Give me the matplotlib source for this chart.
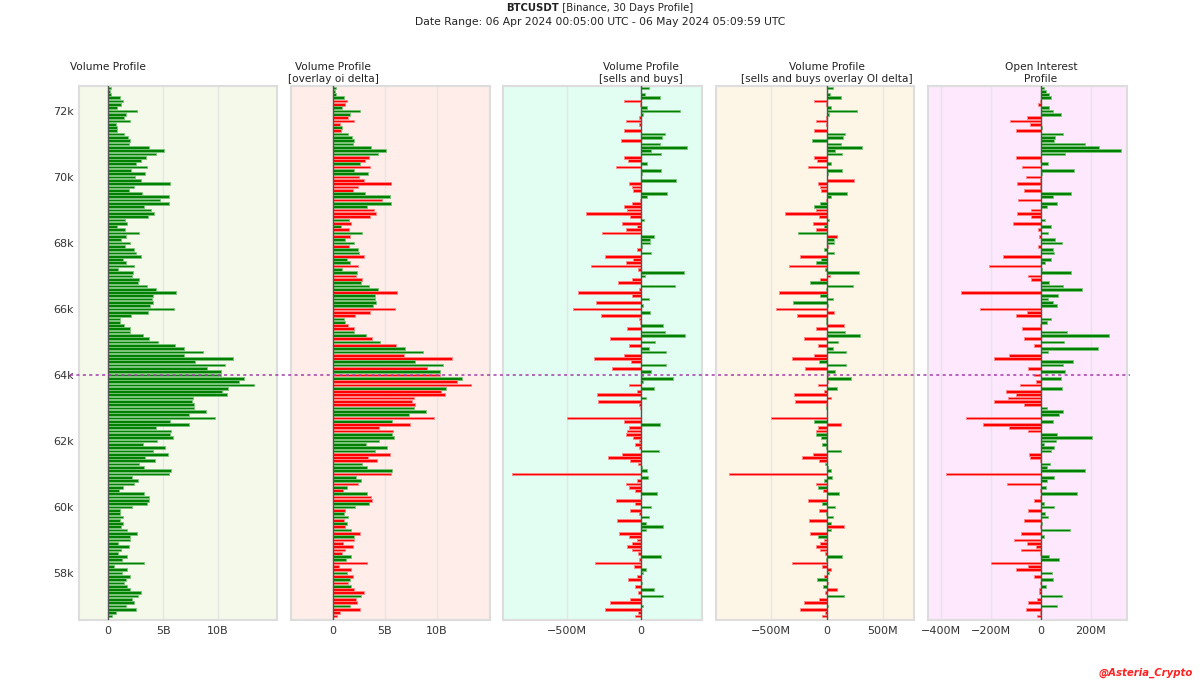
import matplotlib
matplotlib.use("Agg")
import matplotlib.pyplot as plt
from matplotlib.lines import Line2D
from matplotlib.transforms import blended_transform_factory
import numpy as np

# price levels (bin centres), top to bottom
price_levels = list(range(72700, 56600, -100))

# total traded volume per level (billions USDT)
volume_b = [
    0.25, 0.22, 0.28, 1.08, 1.33, 1.16, 0.86, 2.62, 1.60, 1.47,
    1.98, 0.70, 0.84, 0.80, 1.42, 1.78, 2.03, 1.88, 3.70, 5.10,
    4.35, 3.46, 3.03, 2.55, 3.55, 2.05, 3.33, 2.48, 3.00, 5.60,
    2.40, 1.92, 3.09, 5.50, 4.70, 5.55, 3.30, 3.90, 4.14, 3.60,
    1.54, 1.70, 0.80, 1.50, 2.82, 1.66, 1.17, 1.98, 1.57, 2.37,
    2.50, 3.00, 1.37, 1.63, 2.37, 0.87, 2.30, 2.20, 2.80, 2.72,
    3.50, 4.33, 6.20, 4.07, 4.04, 4.10, 3.80, 6.00, 3.60, 2.08,
    1.10, 1.12, 1.47, 2.00, 2.00, 3.20, 3.75, 4.50, 6.06, 6.90,
    8.65, 6.86, 11.40, 7.90, 10.60, 9.00, 10.30, 10.30, 12.40, 11.90,
    13.30, 10.90, 10.35, 10.80, 7.76, 7.63, 7.85, 7.80, 8.90, 7.34,
    9.70, 5.67, 7.37, 4.40, 5.74, 5.67, 5.87, 4.42, 3.20, 5.16,
    4.07, 5.48, 3.40, 4.26, 2.79, 3.27, 5.70, 5.54, 2.20, 2.72,
    2.40, 1.35, 0.96, 3.27, 3.70, 3.75, 3.50, 2.15, 1.12, 1.06,
    1.40, 1.06, 1.38, 1.15, 1.70, 2.60, 2.00, 2.00, 0.93, 1.90,
    1.20, 0.90, 1.70, 1.28, 3.24, 0.54, 1.73, 1.30, 1.96, 1.63,
    1.47, 1.76, 2.00, 3.00, 2.72, 2.20, 2.34, 1.67, 2.56, 0.70,
    0.38,
]

# buys minus sells per level (millions USDT)
delta_m = [
    56, 2, 24, 129, -113, -5, 40, 266, 16, -11,
    -100, -11, 2, -113, 159, 140, -134, 126, 312, 70,
    132, -113, -91, 40, -172, 134, 5, -2, 237, -78,
    -62, -54, 175, 40, -5, -62, -113, -94, -371, -73,
    22, -126, -24, -102, -263, 91, 59, 59, 8, -24,
    67, -245, -56, -99, -336, -19, 290, 27, -62, -153,
    228, -13, -427, -62, 51, -301, 11, -457, 59, -269,
    -11, -8, 148, -97, 159, 296, -207, 97, -78, 51,
    167, -113, -315, -67, 172, -196, 70, 13, 215, 13,
    -83, 91, -24, -296, 35, -288, -13, -8, -3, -3,
    -497, -118, 129, -78, -94, -99, -54, -13, -43, -13,
    124, -126, -220, -75, -22, 5, 38, -871, 48, -30,
    -102, -78, -40, 105, -2, -172, -43, 70, -75, -13,
    56, -161, 35, 151, 32, -148, -78, -24, -62, -97,
    -59, -22, 137, -13, -309, -48, 35, 16, -24, -91,
    5, -38, 89, -19, 148, -75, -207, 11, -245, -19,
    -43,
]

# open interest change per level (millions USDT)
oi_delta_m = [
    13, 21, 32, 38, -5, -11, 30, 46, 78, -57,
    -126, -45, 3, -99, 88, 56, 51, 174, 232, 318,
    94, -100, -4, 29, -76, 131, 3, -62, -4, -96,
    -5, -70, 118, 48, -92, 64, 25, -40, -97, -41,
    16, -111, 38, -14, 29, -8, 54, 84, -13, 48,
    53, -153, 38, 14, -210, 3, 118, -54, -41, 32,
    86, 164, -322, 67, 29, 46, 62, -244, -57, -102,
    41, 25, -6, -78, 103, 271, -70, 92, -29, 228,
    29, -129, -188, 129, 86, -54, 94, -29, 78, -22,
    -86, 84, -139, -99, -131, -189, -70, 22, 89, 72,
    -299, 48, -232, -129, -51, 64, 205, 59, 13, 53,
    40, -48, -46, -3, 35, 25, 177, -382, 53, 25,
    -137, 19, -3, 143, -5, -30, 13, 53, -51, 16,
    29, -70, 5, -5, 116, -80, 13, -107, -57, -22,
    -80, -5, 32, 72, -201, -51, -99, 45, -27, 46,
    -6, 21, -10, -10, 83, -15, -51, 62, -62, -5,
    -15,
]

current_price = 64000
y_ticks = [58000, 60000, 62000, 64000, 66000, 68000, 70000, 72000]
y_tick_labels = ["58k", "60k", "62k", "64k", "66k", "68k", "70k", "72k"]

GREEN = "#008000"
RED = "#ff0000"
GREEN_EDGE = "#7cc47c"
RED_EDGE = "#ff8a8a"

plt.rcParams["font.family"] = ["DejaVu Sans"]

fig = plt.figure(figsize=(12, 6.88), dpi=100)

W, H = 1200.0, 688.0
ax_top, ax_bot = 86, 620
panels_px = [(79, 277), (291, 490), (503, 702), (716, 914), (928, 1127)]
bgs = ["#f5f9ea", "#feede8", "#e2fdf2", "#fdf5e6", "#fde8fd"]
xlims = [(-2.64, 15.36), (-4.04, 15.1), (-932, 412), (-991, 777), (-452, 344)]
xticks = [[0, 5, 10], [0, 5, 10], [-500, 0], [-500, 0, 500], [-400, -200, 0, 200]]
xticklabels = [["0", "5B", "10B"], ["0", "5B", "10B"], ["\u2212500M", "0"],
               ["\u2212500M", "0", "500M"], ["\u2212400M", "\u2212200M", "0", "200M"]]
titles = ["Volume Profile", "Volume Profile\n[overlay oi delta]",
          "Volume Profile\n[sells and buys]",
          "Volume Profile\n[sells and buys overlay OI delta]",
          "Open Interest\nProfile"]

vol = np.array(volume_b)
dlt = np.array(delta_m)
oid = np.array(oi_delta_m)
oi_col = [GREEN if v >= 0 else RED for v in oid]
oi_edge = [GREEN_EDGE if v >= 0 else RED_EDGE for v in oid]
d_col = [GREEN if v >= 0 else RED for v in dlt]
d_edge = [GREEN_EDGE if v >= 0 else RED_EDGE for v in dlt]

series = [
    (vol, [GREEN] * len(vol), [GREEN_EDGE] * len(vol)),
    (vol, oi_col, oi_edge),
    (dlt, d_col, d_edge),
    (dlt, oi_col, oi_edge),
    (oid, oi_col, oi_edge),
]

axes = []
for k, ((x0, x1), bg) in enumerate(zip(panels_px, bgs)):
    ax = fig.add_axes([x0 / W, 1 - ax_bot / H, (x1 - x0) / W, (ax_bot - ax_top) / H])
    axes.append(ax)
    ax.set_facecolor(bg)
    vals, cols, edges = series[k]
    ax.barh(price_levels, vals, height=82, color=cols, edgecolor=edges,
            linewidth=0.6, zorder=3)
    ax.set_ylim(56576, 72758)
    ax.set_xlim(*xlims[k])
    ax.set_xticks(xticks[k])
    ax.set_xticklabels(xticklabels[k])
    ax.grid(axis="x", color="#e6e6e6", linewidth=1.0, zorder=0)
    ax.set_axisbelow(True)
    ax.axvline(0, color="#555555", linewidth=1.0, zorder=4)
    for sp in ax.spines.values():
        sp.set_color("#dddddd")
        sp.set_linewidth(1.5)
    ax.tick_params(axis="both", length=0, labelsize=8, colors="#333333", pad=4)
    if k == 0:
        ax.set_yticks(y_ticks)
        ax.set_yticklabels(y_tick_labels)
    else:
        ax.set_yticks([])
    tr = blended_transform_factory(ax.transData, ax.transAxes)
    ax.text(0, 1 + 24 / (ax_bot - ax_top), titles[k], transform=tr, ha="center",
            va="top", fontsize=7.6, color="#222222", linespacing=1.25)

# current price line across the figure
tr_line = blended_transform_factory(fig.transFigure, axes[0].transData)
fig.add_artist(Line2D([70 / W, 1130 / W], [current_price, current_price],
                      transform=tr_line, color="#a33ea8", linewidth=1.1,
                      linestyle=(0, (2, 2.2)), zorder=10))

# header: bold symbol + normal remainder, centred together
renderer = fig.canvas.get_renderer()
t_bold = fig.text(0, 1 - 8 / H, "BTCUSDT", ha="left", va="center", fontsize=7.3,
                  fontweight="bold", color="#222222")
t_rest = fig.text(0, 1 - 8 / H, " [Binance, 30 Days Profile]", ha="left",
                  va="center", fontsize=7.3, color="#222222")
wb = t_bold.get_window_extent(renderer).width / W
wr = t_rest.get_window_extent(renderer).width / W
start = 0.5 - (wb + wr) / 2
t_bold.set_x(start)
t_rest.set_x(start + wb)

fig.text(0.5, 1 - 22 / H,
         "Date Range: 06 Apr 2024 00:05:00 UTC - 06 May 2024 05:09:59 UTC",
         ha="center", va="center", fontsize=7.75, color="#222222")
fig.text(1193 / W, 1 - 673 / H, "@Asteria_Crypto", ha="right", va="center",
         fontsize=7.3, color="#ff2020", fontweight="bold", fontstyle="italic")

fig.savefig("out.png", dpi=100)
